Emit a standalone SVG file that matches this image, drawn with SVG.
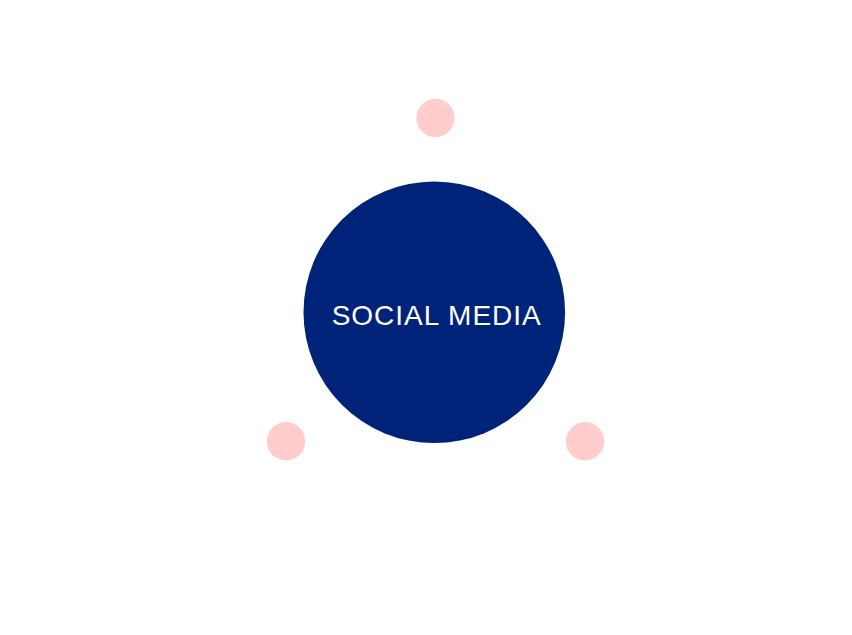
<svg xmlns="http://www.w3.org/2000/svg" width="852" height="635" viewBox="0 0 852 635">
<style>
.hub{fill:#00237a}
.dot{fill:#ffcdcc}
.lbl{fill:#ffffff;font-family:"Liberation Sans",Arial,sans-serif;font-size:28px;letter-spacing:1px;text-anchor:middle}
</style>
<rect width="852" height="635" fill="#ffffff"/>
<g id="connectors"></g>
<g id="node-top"><circle class="dot" cx="435.5" cy="118" r="19.2"/></g>
<g id="node-left"><circle class="dot" cx="286" cy="441.3" r="19.2"/></g>
<g id="node-right"><circle class="dot" cx="585" cy="441.3" r="19.2"/></g>
<g id="node-social-media">
<circle class="hub" cx="434.3" cy="312.3" r="130.8"/>
<text class="lbl" x="436.7" y="325">SOCIAL MEDIA</text>
</g>
</svg>
